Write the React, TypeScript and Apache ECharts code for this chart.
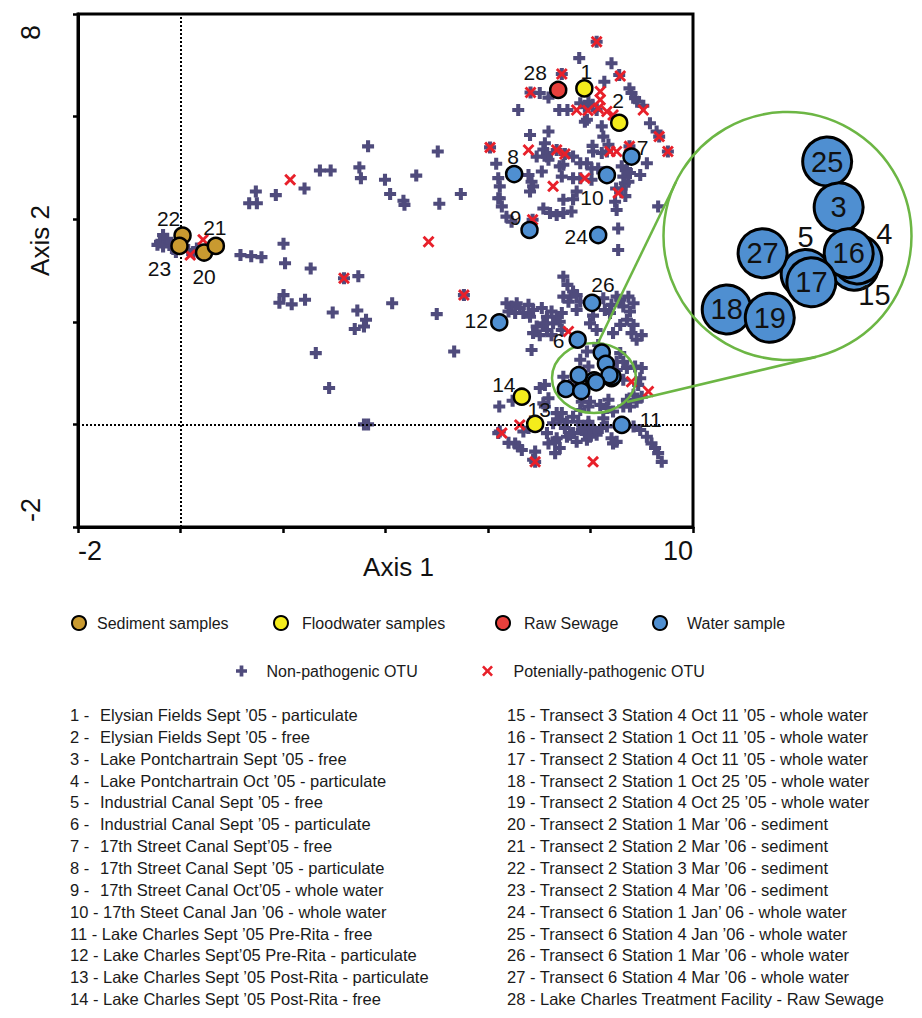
import React, { useEffect, useRef } from 'react';
import * as echarts from 'echarts';

const FONT = "'Liberation Sans', Arial, Helvetica, sans-serif";

// Axis tick labels that are printed
const xTickLabels = [-2, 10];
const yTickLabels = [-2, 8];

// Samples (ID, Axis 1, Axis 2, group)
const sampleIds = [1, 2, 3, 4, 5, 6, 7, 8, 9, 10, 11, 12, 13, 14, 15, 16, 17, 18, 19, 20, 21, 22, 23, 24, 25, 26, 27, 28];
const sampleAxis1 = [7.88, 8.56, 8.3, 8.43, 8.07, 7.75, 8.8, 6.51, 6.81, 8.32, 8.61, 6.22, 6.92, 6.66, 8.41, 8.37, 8.11, 7.52, 7.82, 0.46, 0.69, 0.04, -0.02, 8.15, 8.22, 8.03, 7.77, 7.37];
const sampleAxis2 = [6.55, 5.88, 1.18, 0.93, 0.86, 1.65, 5.22, 4.88, 3.79, 4.86, -0.01, 1.99, 0.01, 0.54, 0.9, 0.96, 0.82, 0.69, 0.65, 3.35, 3.48, 3.68, 3.48, 3.69, 1.4, 2.37, 0.96, 6.52];
const sampleGroup = ['F', 'F', 'W', 'W', 'W', 'W', 'W', 'W', 'W', 'W', 'W', 'W', 'F', 'F', 'W', 'W', 'W', 'W', 'W', 'S', 'S', 'S', 'S', 'W', 'W', 'W', 'W', 'R'];

const groupKeys = ['S', 'F', 'R', 'W'];
const groupNames = ['Sediment samples', 'Floodwater samples', 'Raw Sewage', 'Water sample'];

// Samples magnified in the inset (drawing order)
const insetIds = [15, 4, 5, 25, 3, 16, 27, 17, 18, 19];

// OTU scores
const nonPathogenicOTU = [
  [3.66, 5.42], [5.02, 5.32], [6.04, 5.4], [6.16, 5.08], [2.72, 4.95], [2.93, 4.95], [3.49, 5.01], [3.52, 4.8], [3.99, 4.77], [4.6, 4.85],
  [2.42, 4.6], [1.47, 4.54], [1.86, 4.47], [1.34, 4.31], [1.49, 4.31], [4.09, 4.49], [4.35, 4.36], [4.37, 4.28], [5.05, 4.3], [5.47, 4.49],
  [6.2, 4.41], [2.01, 3.52], [1.17, 3.3], [1.38, 3.28], [1.58, 3.26], [2.04, 3.14], [2.54, 3.04], [3.19, 2.85], [3.47, 2.89], [5.53, 2.52],
  [2.01, 2.52], [1.93, 2.37], [2.17, 2.34], [2.43, 2.43], [2.97, 2.18], [3.45, 2.22], [3.62, 2.04], [3.4, 1.86], [3.58, 1.91], [4.13, 2.36],
  [5.0, 2.15], [2.64, 1.39], [5.34, 1.42], [2.9, 0.71], [3.58, 0.0], [3.66, 0.0], [6.22, 0.35], [6.2, -0.17],
  [-0.34, 3.69], [-0.4, 3.56], [-0.34, 3.47], [-0.2, 3.53], [-0.14, 3.42], [-0.26, 3.62], [0.32, 3.43], [0.38, 3.34], [0.15, 3.4], [-0.09, 3.36],
  [-0.45, 3.5], [0.25, 3.36],
  [8.12, 7.46], [7.78, 7.14], [8.41, 7.04], [7.44, 6.83], [8.56, 6.81], [6.83, 6.47], [7.01, 6.46], [7.18, 6.37], [8.27, 6.68], [8.76, 6.55],
  [8.8, 6.46], [8.87, 6.36], [8.91, 6.29], [9.03, 6.21], [9.16, 5.87], [9.29, 5.71], [9.34, 5.61], [9.51, 5.32], [6.59, 6.13], [7.39, 6.13],
  [7.55, 6.13], [7.8, 6.26], [7.89, 6.19], [7.96, 6.29], [8.04, 6.23], [8.12, 6.13], [7.89, 5.9], [8.22, 5.81], [8.25, 5.61], [7.18, 5.71],
  [6.82, 5.64], [7.11, 5.48], [7.08, 5.36], [7.15, 5.29], [7.34, 5.35], [7.5, 5.27], [6.95, 5.22], [7.15, 5.22], [8.04, 5.43], [8.05, 5.32],
  [8.22, 5.29], [8.32, 5.32], [8.76, 5.42], [7.66, 5.22], [7.8, 5.09], [7.47, 5.06], [6.2, 4.8], [6.23, 4.64], [6.79, 4.86], [6.85, 4.73],
  [6.88, 4.64], [6.82, 4.54], [7.05, 4.93], [7.44, 4.83], [7.66, 4.8], [7.8, 4.8], [8.02, 4.77], [6.23, 4.41], [6.27, 4.25], [6.36, 4.05],
  [6.46, 3.95], [7.08, 4.21], [7.21, 4.12], [7.34, 4.08], [7.47, 4.12], [7.63, 4.15], [7.47, 4.38], [7.66, 4.39], [6.87, 3.99], [8.61, 5.03],
  [8.71, 4.96], [8.64, 4.83], [8.77, 4.9], [8.67, 4.7], [8.74, 4.73], [8.61, 4.6], [9.1, 5.09], [8.97, 4.86], [8.51, 4.18], [8.54, 3.82],
  [8.54, 3.4], [9.32, 4.25], [7.47, 2.88], [7.93, 5.94], [7.18, 5.16], [7.4, 5.03], [7.93, 5.09], [8.02, 4.99], [8.15, 4.99], [7.73, 4.54],
  [8.48, 4.34], [8.35, 5.45], [8.5, 4.6], [8.68, 4.45],
  [7.55, 2.72], [7.66, 2.59], [7.61, 2.49], [7.73, 2.52], [7.8, 2.39], [7.57, 2.39], [7.73, 2.23], [7.44, 2.17], [6.36, 2.36], [6.46, 2.3],
  [6.4, 2.2], [6.56, 2.36], [6.62, 2.27], [6.53, 2.17], [6.69, 2.17], [6.79, 2.33], [6.82, 2.1], [6.88, 2.23], [7.05, 2.27], [7.15, 2.1],
  [7.24, 2.2], [7.34, 2.1], [7.08, 1.97], [7.27, 1.97], [7.4, 2.0], [6.95, 1.91], [6.88, 1.78], [7.01, 1.74], [7.15, 1.84], [7.24, 1.74],
  [7.44, 1.84], [6.85, 1.45], [7.99, 1.97], [8.12, 1.84], [8.05, 2.12], [8.28, 2.23], [8.38, 2.17], [8.41, 2.33], [8.58, 2.43], [8.64, 2.3],
  [8.74, 2.49], [8.77, 2.2], [8.71, 2.04], [8.58, 1.94], [8.84, 1.94], [8.8, 1.78], [8.9, 1.65], [9.0, 1.74], [8.44, 1.78], [7.93, 1.42],
  [8.51, 1.22], [8.64, 1.22], [8.71, 1.1], [8.87, 1.13], [9.0, 1.1], [7.47, 2.49], [8.25, 2.46], [8.51, 2.49], [8.84, 2.36], [6.53, -0.37],
  [6.59, -0.43], [6.66, -0.5], [6.92, -0.53], [6.92, -0.73], [7.01, 0.71], [7.11, 0.77], [7.18, 0.51], [7.11, 0.35], [7.34, 0.22], [7.4, 0.09],
  [7.27, 0.02], [7.54, 0.05], [7.66, 0.15], [7.76, 0.05], [7.86, -0.04], [7.96, 0.05], [8.02, -0.11], [8.12, -0.2], [8.32, -0.04], [8.25, 0.12],
  [7.15, -0.17], [7.18, -0.37], [7.34, -0.27], [7.4, -0.46], [7.54, -0.24], [7.66, -0.17], [7.73, -0.34], [7.89, -0.17], [7.93, -0.3], [8.41, -0.27],
  [8.44, -0.37], [8.84, -0.04], [8.97, -0.11], [9.1, -0.24], [9.19, -0.37], [9.26, -0.46], [9.32, -0.56], [9.39, -0.73], [8.97, 0.9], [8.84, 0.58],
  [8.71, 0.48], [8.64, 0.35], [7.83, 0.44], [7.99, 0.44], [8.19, 0.38], [8.35, 0.48], [7.47, 0.93], [7.6, 0.77], [8.15, 1.55], [7.8, 1.26],
  [8.58, 1.39], [8.51, 1.06], [8.64, 0.87], [7.96, 1.13], [7.08, 0.41], [7.44, 0.22], [7.8, 0.28], [7.96, 0.35], [8.32, 0.32], [8.44, 0.25],
  [8.77, 0.35], [8.93, 0.77], [9.0, 0.54], [8.9, 0.44], [6.23, -0.14], [6.88, -0.69], [7.31, -0.34], [7.6, -0.2], [7.83, -0.11], [7.96, -0.01],
  [8.09, -0.14], [8.22, -0.07], [7.99, -0.24], [8.51, -0.34], [7.5, -0.07], [6.69, -0.14], [6.79, -0.07], [7.31, -0.56], [6.48, 0.46], [6.4, -0.36],
];

const pathogenicOTU = [
  [8.12, 7.46], [8.58, 6.79], [7.44, 6.83], [6.83, 6.47], [8.19, 6.49], [9.03, 6.13], [9.34, 5.61], [9.51, 5.32], [7.73, 6.13], [8.15, 6.16],
  [8.19, 6.33], [8.44, 6.03], [6.04, 5.4], [6.79, 5.35], [7.34, 5.35], [7.5, 5.27], [8.38, 5.32], [8.51, 5.32], [8.76, 5.42], [7.89, 4.8],
  [7.27, 4.64], [8.54, 4.51], [6.87, 3.99], [2.14, 4.77], [4.84, 3.56], [3.19, 2.85], [5.53, 2.52], [0.44, 3.6], [0.19, 3.3], [7.57, 1.81],
  [6.62, -0.01], [6.27, -0.17], [6.92, -0.73], [8.05, -0.73], [8.8, 0.83], [9.13, 0.64], [7.95, 6.12], [8.32, 6.1],
];

const sampleDescriptions = [
  'Elysian Fields Sept ’05 - particulate',
  'Elysian Fields Sept ’05 - free',
  'Lake Pontchartrain Sept ’05 - free',
  'Lake Pontchartrain Oct ’05 - particulate',
  'Industrial Canal Sept ’05 - free',
  'Industrial Canal Sept ’05 - particulate',
  '17th Street Canal Sept’05 - free',
  '17th Street Canal Sept ’05 - particulate',
  '17th Street Canal Oct’05 - whole water',
  '17th Steet Canal Jan ’06 - whole water',
  'Lake Charles Sept ’05 Pre-Rita - free',
  'Lake Charles Sept’05 Pre-Rita - particulate',
  'Lake Charles Sept ’05 Post-Rita - particulate',
  'Lake Charles Sept ’05 Post-Rita - free',
  'Transect 3 Station 4 Oct 11 ’05 - whole water',
  'Transect 2 Station 1 Oct 11 ’05 - whole water',
  'Transect 2 Station 4 Oct 11 ’05 - whole water',
  'Transect 2 Station 1 Oct 25 ’05 - whole water',
  'Transect 2 Station 4 Oct 25 ’05 - whole water',
  'Transect 2 Station 1 Mar ’06 - sediment',
  'Transect 2 Station 2 Mar ’06 - sediment',
  'Transect 2 Station 3 Mar ’06 - sediment',
  'Transect 2 Station 4 Mar ’06 - sediment',
  'Transect 6 Station 1 Jan’ 06 - whole water',
  'Transect 6 Station 4 Jan ’06 - whole water',
  'Transect 6 Station 1 Mar ’06 - whole water',
  'Transect 6 Station 4 Mar ’06 - whole water',
  'Lake Charles Treatment Facility - Raw Sewage',
];

// ---- styling ----
const groupColors: Record<string, string> = { S: '#c99a30', F: '#f4ec1c', R: '#e8403c', W: '#4f8fd1' };
const PLUS = 'path://M3.3,0H6.7V3.3H10V6.7H6.7V10H3.3V6.7H0V3.3H3.3Z';
const CROSS = 'path://M1.7,0L5,3.3L8.3,0L10,1.7L6.7,5L10,8.3L8.3,10L5,6.7L1.7,10L0,8.3L3.3,5L0,1.7Z';
const GREEN = '#6cb644';

// label offsets (px, from symbol centre) in the main plot
const mainLabelOffset: Record<number, [number, number]> = {
  28: [-23, -17], 1: [2, -17], 2: [-1, -22], 7: [11, -9], 8: [-1, -18], 10: [-15, 22], 9: [-14, -12],
  24: [-22, 1], 26: [11, -18], 12: [-23, -2], 6: [-19, 1], 14: [-18, -12], 13: [4, -14], 11: [29, -5],
  22: [-14, -17], 23: [-20, 23], 20: [0, 24], 21: [-1, -18],
};
const insetLabelOffset: Record<number, [number, number]> = { 5: [0, -37], 4: [27, -25], 15: [20, 29] };

const legendSpots = [
  { name: 'Sediment samples', left: 71, top: 615, w: 26, h: 14 },
  { name: 'Floodwater samples', left: 273, top: 615, w: 32, h: 14 },
  { name: 'Raw Sewage', left: 495, top: 615, w: 32, h: 14 },
  { name: 'Water sample', left: 652, top: 615, w: 44, h: 14 },
  { name: 'Non-pathogenic OTU', left: 236, top: 663, w: 40, h: 11 },
  { name: 'Potenially-pathogenic OTU', left: 482, top: 663, w: 42, h: 11 },
];

function buildOption() {
  const val = (id: number) => [sampleAxis1[id - 1], sampleAxis2[id - 1]];

  const sampleSeries = groupKeys.map((g, gi) => {
    let ids = sampleIds.filter((id) => sampleGroup[id - 1] === g);
    ids = ids.filter((id) => !insetIds.includes(id)).concat(insetIds.filter((id) => ids.includes(id)));
    return {
      name: groupNames[gi],
      type: 'scatter',
      xAxisIndex: 0,
      yAxisIndex: 0,
      symbol: 'circle',
      symbolSize: 16,
      z: 5,
      itemStyle: { color: groupColors[g], borderColor: '#000', borderWidth: 2.5, opacity: 1 },
      label: { show: false, position: 'inside', formatter: '{b}', fontSize: 21, color: '#111', fontFamily: FONT },
      emphasis: { disabled: true },
      data: ids.map((id) => {
        const off = mainLabelOffset[id];
        return {
          name: String(id),
          value: val(id),
          label: off ? { show: true, offset: off } : { show: false },
        };
      }),
    };
  });

  const insetSeries = {
    name: 'Water sample inset',
    type: 'scatter',
    xAxisIndex: 1,
    yAxisIndex: 1,
    symbol: 'circle',
    symbolSize: 49,
    z: 6,
    itemStyle: { color: groupColors.W, borderColor: '#000', borderWidth: 3, opacity: 1 },
    label: { show: true, position: 'inside', formatter: '{b}', fontSize: 29, color: '#111', fontFamily: FONT },
    emphasis: { disabled: true },
    data: insetIds.map((id) => {
      const off = insetLabelOffset[id];
      return { name: String(id), value: val(id), label: off ? { offset: off } : {} };
    }),
  };

  const listGraphics: any[] = [];
  sampleDescriptions.forEach((desc, i) => {
    const id = i + 1;
    const col = i < 14 ? 0 : 1;
    const row = i % 14;
    const y = 715 + row * 21.85;
    const style = { fontSize: 16.5, fontFamily: FONT, fill: '#1a1a1a', verticalAlign: 'middle', align: 'left' };
    if (id < 10) {
      listGraphics.push({ type: 'text', x: 70, y, z: 10, style: { ...style, text: `${id} -` } });
      listGraphics.push({ type: 'text', x: 100, y, z: 10, style: { ...style, text: desc } });
    } else {
      listGraphics.push({ type: 'text', x: col === 0 ? 70 : 507, y, z: 10, style: { ...style, text: `${id} - ${desc}` } });
    }
  });

  return {
    animation: false,
    backgroundColor: '#fff',
    textStyle: { fontFamily: FONT },
    grid: [
      { left: 78, top: 14, width: 615, height: 513, show: true, borderColor: '#000', borderWidth: 3, backgroundColor: 'transparent', containLabel: false, outerBoundsMode: 'none' },
      { left: 663, top: 112, width: 249, height: 248, show: false, containLabel: false, outerBoundsMode: 'none' },
    ],
    xAxis: [
      {
        type: 'value', gridIndex: 0, min: -2, max: 10, interval: 2,
        name: 'Axis 1', nameLocation: 'middle', nameGap: 27, nameMoveOverlap: false,
        nameTextStyle: { fontSize: 26, color: '#111', fontFamily: FONT, padding: [0, 0, 0, 26] },
        axisLine: { show: true, onZero: false, lineStyle: { color: '#000', width: 3 } },
        axisTick: { show: true, length: 6, lineStyle: { color: '#000', width: 2.5 } },
        axisLabel: {
          formatter: (v: number) => (xTickLabels.includes(v) ? String(v) : ''),
          fontSize: 27, color: '#111', margin: 10, fontFamily: FONT,
          showMinLabel: true, showMaxLabel: true, alignMinLabel: 'left', alignMaxLabel: 'right',
        },
        splitLine: { show: false },
      },
      { type: 'value', gridIndex: 1, min: 7.076, max: 8.811, show: false },
    ],
    yAxis: [
      {
        type: 'value', gridIndex: 0, min: -2, max: 8, interval: 2,
        name: 'Axis 2', nameLocation: 'middle', nameRotate: 90, nameGap: 25, nameMoveOverlap: false,
        nameTextStyle: { fontSize: 26, color: '#111', fontFamily: FONT, padding: [0, 0, 0, 60] },
        axisLine: { show: true, onZero: false, lineStyle: { color: '#000', width: 3 } },
        axisTick: { show: true, length: 5, lineStyle: { color: '#000', width: 2.5 } },
        axisLabel: {
          formatter: (v: number) => (yTickLabels.includes(v) ? (v > 0 ? `{t|${v}}` : `{b|${v}}`) : ''),
          rotate: 90, fontSize: 27, color: '#111', margin: 34, fontFamily: FONT,
          showMinLabel: true, showMaxLabel: true, alignMinLabel: 'left', alignMaxLabel: 'right',
          rich: {
            t: { fontSize: 27, color: '#111', fontFamily: FONT, padding: [0, 11, 0, 0] },
            b: { fontSize: 27, color: '#111', fontFamily: FONT, padding: [0, 0, 0, 5] },
          },
        },
        splitLine: { show: false },
      },
      { type: 'value', gridIndex: 1, min: 0.447, max: 1.638, show: false },
    ],
    legend: legendSpots.map((l) => ({
      data: [l.name],
      left: l.left,
      top: l.top,
      orient: 'horizontal',
      padding: 0,
      itemWidth: l.w,
      itemHeight: l.h,
      selectedMode: false,
      textStyle: { fontSize: 16, color: '#1a1a1a', fontFamily: FONT },
    })),
    series: [
      {
        name: 'Non-pathogenic OTU',
        type: 'scatter',
        symbol: PLUS,
        symbolSize: 12,
        z: 2,
        itemStyle: { color: '#4f4b7c', opacity: 1 },
        emphasis: { disabled: true },
        data: nonPathogenicOTU,
        markLine: {
          silent: true,
          symbol: 'none',
          animation: false,
          label: { show: false },
          lineStyle: { color: '#000', type: 'dotted', width: 2 },
          emphasis: { disabled: true },
          data: [{ xAxis: 0 }, { yAxis: 0 }],
        },
      },
      {
        name: 'Potenially-pathogenic OTU',
        type: 'scatter',
        symbol: CROSS,
        symbolSize: 12,
        z: 3,
        itemStyle: { color: '#e8202a', opacity: 1 },
        emphasis: { disabled: true },
        data: pathogenicOTU,
      },
      ...sampleSeries,
      insetSeries,
    ],
    graphic: [
      { type: 'ellipse', z: 4, shape: { cx: 594, cy: 378, rx: 42, ry: 35 }, style: { fill: 'none', stroke: GREEN, lineWidth: 2.5 } },
      { type: 'circle', z: 4, shape: { cx: 787.5, cy: 236, r: 124 }, style: { fill: 'none', stroke: GREEN, lineWidth: 2.5 } },
      { type: 'line', z: 4, shape: { x1: 598, y1: 343, x2: 676, y2: 182 }, style: { stroke: GREEN, lineWidth: 2.5 } },
      { type: 'line', z: 4, shape: { x1: 627, y1: 402, x2: 816, y2: 357 }, style: { stroke: GREEN, lineWidth: 2.5 } },
      ...listGraphics,
    ],
  };
}

export default function App() {
  const ref = useRef<HTMLDivElement>(null);
  useEffect(() => {
    document.body.style.margin = '0';
    const chart = echarts.init(ref.current!, null, { renderer: 'svg', width: 922, height: 1018 });
    chart.setOption(buildOption() as any);
    return () => chart.dispose();
  }, []);
  return <div ref={ref} style={{ width: 922, height: 1018, position: 'absolute', left: 0, top: 0 }} />;
}
